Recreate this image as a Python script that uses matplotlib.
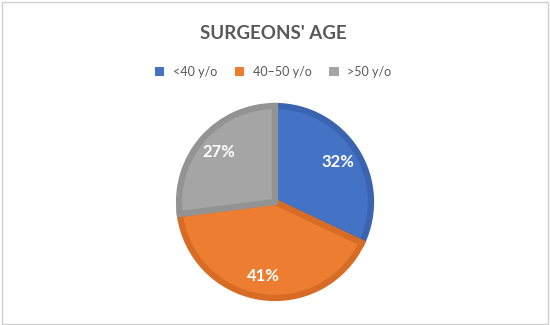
import matplotlib
matplotlib.use("Agg")
import matplotlib.pyplot as plt
from matplotlib.patches import Patch, Rectangle

categories = ["<40 y/o", "40\u201350 y/o", ">50 y/o"]
shares = [32, 41, 27]
colors = ["#4472C4", "#ED7D31", "#A5A5A5"]
edges = ["#3A64B0", "#D86C25", "#939393"]
TEXT = "#595959"

plt.rcParams["font.family"] = ["Lato", "DejaVu Sans"]

fig = plt.figure(figsize=(5.5, 3.25), dpi=100, facecolor="white")
fig.patches.append(Rectangle((0.003, 0.004), 0.994, 0.991, transform=fig.transFigure,
                             fill=False, edgecolor="#D0D0D0", linewidth=1))

ax = fig.add_axes([0.3255, 0.083, 0.349, 0.591])
wedges, texts = ax.pie(shares, colors=colors, startangle=90, counterclock=False,
                       labels=[f"{v}%" for v in shares], labeldistance=0.78,
                       wedgeprops=dict(linewidth=4.5, joinstyle="miter"),
                       textprops=dict(color="white", fontsize=12, fontweight="bold",
                                      ha="center", va="center"))
for w, e in zip(wedges, edges):
    w.set_edgecolor(e)
ax.set_xlim(-1, 1)
ax.set_ylim(-1, 1)
ax.set_aspect("equal")

fig.text(0.497, 0.898, "SURGEONS' AGE", ha="center", va="center", fontsize=13.5,
         fontweight="bold", color=TEXT)

handles = [Patch(facecolor=c, edgecolor="none") for c in colors]
fig.legend(handles, categories, loc="center", bbox_to_anchor=(0.497, 0.778), ncol=3,
           frameon=False, fontsize=9, handlelength=0.75, handleheight=0.75,
           handletextpad=0.7, columnspacing=1.4, labelcolor=TEXT)

fig.savefig("out.png", dpi=100, facecolor="white")
